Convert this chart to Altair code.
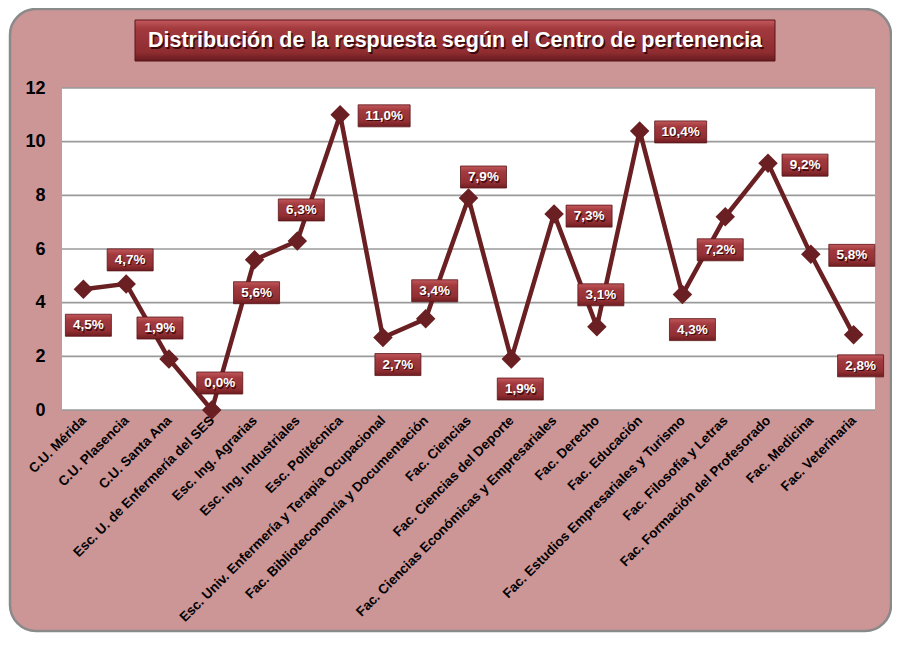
import altair as alt
import pandas as pd

categories = [
    "C.U. Mérida", "C.U. Plasencia", "C.U. Santa Ana", "Esc. U. de Enfermería del SES",
    "Esc. Ing. Agrarias", "Esc. Ing. Industriales", "Esc. Politécnica",
    "Esc. Univ. Enfermería y Terapia Ocupacional", "Fac. Biblioteconomía y Documentación",
    "Fac. Ciencias", "Fac. Ciencias del Deporte", "Fac. Ciencias Económicas y Empresariales",
    "Fac. Derecho", "Fac. Educación", "Fac. Estudios Empresariales y Turismo",
    "Fac. Filosofía y Letras", "Fac. Formación del Profesorado", "Fac. Medicina", "Fac. Veterinaria",
]
values = [4.5, 4.7, 1.9, 0.0, 5.6, 6.3, 11.0, 2.7, 3.4, 7.9, 1.9, 7.3, 3.1, 10.4, 4.3, 7.2, 9.2, 5.8, 2.8]
value_labels = ["4,5%", "4,7%", "1,9%", "0,0%", "5,6%", "6,3%", "11,0%", "2,7%", "3,4%", "7,9%",
                "1,9%", "7,3%", "3,1%", "10,4%", "4,3%", "7,2%", "9,2%", "5,8%", "2,8%"]
# label placement offsets (pixels) relative to each point
label_dx = [5, 4, -9, 8, 2, 4, 44, 15, 9, 15, 9, 35, 4, 41, 10, -5, 37, 41, 7]
label_dy = [36, -24, -31, -27, 33, -31, 1, 27, -28, -21, 30, 2, -32, 1, 35, 33, 2, 1, 31]
y_ticks = [0, 2, 4, 6, 8, 10, 12]
title_text = "Distribución de la respuesta según el Centro de pertenencia"

W, H = 813, 322
XMIN, XMAX = -0.5, len(categories) - 0.5
YMIN, YMAX = 0, 12
PX_X = W / (XMAX - XMIN)
PX_Y = H / (YMAX - YMIN)
BOX_H = 22

df = pd.DataFrame({"idx": list(range(len(categories))), "cat": categories,
                   "val": values, "lab": value_labels})
box_w = df["lab"].str.len().map({4: 46, 5: 52})
df["lx"] = df["idx"] + pd.Series(label_dx) / PX_X
df["ly"] = df["val"] - pd.Series(label_dy) / PX_Y
df["bx1"] = df["lx"] - box_w / 2 / PX_X
df["bx2"] = df["lx"] + box_w / 2 / PX_X
df["by1"] = df["ly"] - BOX_H / 2 / PX_Y
df["by2"] = df["ly"] + BOX_H / 2 / PX_Y

names_js = "[" + ",".join("'" + c + "'" for c in categories) + "]"

xscale = alt.Scale(domain=[XMIN, XMAX], nice=False, zero=False)
yscale = alt.Scale(domain=[YMIN, YMAX], nice=False)

one = pd.DataFrame({"a": [0]})
FONT = "Liberation Sans"

bg = alt.Chart(one).mark_rect(
    fill="#CC9596", stroke="#8a8a8a", strokeWidth=2.5, cornerRadius=26
).encode(x=alt.value(-52), x2=alt.value(829), y=alt.value(-79), y2=alt.value(543))

plot_bg = alt.Chart(one).mark_rect(fill="white").encode(
    x=alt.value(0), x2=alt.value(W), y=alt.value(0), y2=alt.value(H))

grid = alt.Chart(pd.DataFrame({"t": y_ticks})).mark_rule(color="#9a9a9a", strokeWidth=1.6).encode(
    y=alt.Y("t:Q", scale=yscale), x=alt.value(0), x2=alt.value(W))

box_grad = alt.LinearGradient(
    gradient="linear", x1=0, y1=0, x2=0, y2=1,
    stops=[alt.GradientStop(offset=0, color="#C0585C"),
           alt.GradientStop(offset=0.25, color="#A23A3E"),
           alt.GradientStop(offset=0.75, color="#922F33"),
           alt.GradientStop(offset=1, color="#6E1D21")])

line = alt.Chart(df).mark_line(color="#6A1F22", strokeWidth=4.5).encode(
    x=alt.X("idx:Q", scale=xscale,
            axis=alt.Axis(values=list(range(len(categories))), labelExpr=names_js + "[datum.value]",
                          labelAngle=-45, labelAlign="right", labelBaseline="middle",
                          labelFont=FONT, labelFontWeight="bold", labelFontSize=13.5,
                          labelColor="black", labelPadding=8, labelOverlap=False, labelLimit=0,
                          grid=False, domain=False, ticks=False, title=None, zindex=1)),
    y=alt.Y("val:Q", scale=yscale,
            axis=alt.Axis(values=y_ticks, labelFont=FONT, labelFontWeight="bold",
                          labelFontSize=18, labelColor="black", labelPadding=17,
                          grid=False, domain=False, ticks=False, title=None, zindex=1)),
)

points = alt.Chart(df).mark_point(shape="diamond", filled=True, size=380, color="#6A1F22", opacity=1).encode(
    x=alt.X("idx:Q", scale=xscale), y=alt.Y("val:Q", scale=yscale))

boxes = alt.Chart(df).mark_rect(color=box_grad, stroke="#5a1518", strokeWidth=0.8).encode(
    x=alt.X("bx1:Q", scale=xscale), x2="bx2:Q",
    y=alt.Y("by1:Q", scale=yscale), y2="by2:Q")

lab_shadow = alt.Chart(df).mark_text(
    font=FONT, fontWeight="bold", fontSize=13.5, color="#3a0a0c",
    dx=1, dy=1.5).encode(x=alt.X("lx:Q", scale=xscale), y=alt.Y("ly:Q", scale=yscale), text="lab:N")

labs = alt.Chart(df).mark_text(
    font=FONT, fontWeight="bold", fontSize=13.5, color="white").encode(
    x=alt.X("lx:Q", scale=xscale), y=alt.Y("ly:Q", scale=yscale), text="lab:N")

title_grad = alt.LinearGradient(
    gradient="linear", x1=0, y1=0, x2=0, y2=1,
    stops=[alt.GradientStop(offset=0, color="#C45A5E"),
           alt.GradientStop(offset=0.2, color="#A23A3E"),
           alt.GradientStop(offset=0.8, color="#8E2C30"),
           alt.GradientStop(offset=1, color="#651B1E")])

title_box = alt.Chart(one).mark_rect(color=title_grad, stroke="#5a1518", strokeWidth=1).encode(
    x=alt.value(73), x2=alt.value(713), y=alt.value(-68), y2=alt.value(-27))

title_shadow = alt.Chart(one).mark_text(
    text=title_text, font=FONT, fontWeight="bold", fontSize=21.5,
    color="#3a0a0c", dx=1.5, dy=1.5).encode(x=alt.value(393), y=alt.value(-47))

title = alt.Chart(one).mark_text(
    text=title_text, font=FONT, fontWeight="bold", fontSize=21.5,
    color="white").encode(x=alt.value(393), y=alt.value(-47))

chart = alt.layer(
    bg, plot_bg, grid, line, points, boxes, lab_shadow, labs, title_box, title_shadow, title
).properties(
    width=W, height=H,
    autosize=alt.AutoSizeParams(type="none"),
    padding={"left": 54, "top": 80, "right": 17, "bottom": 224},
    background="white",
).configure_view(stroke=None)

chart.save("out.html", embed_options={"renderer": "svg", "actions": False})
